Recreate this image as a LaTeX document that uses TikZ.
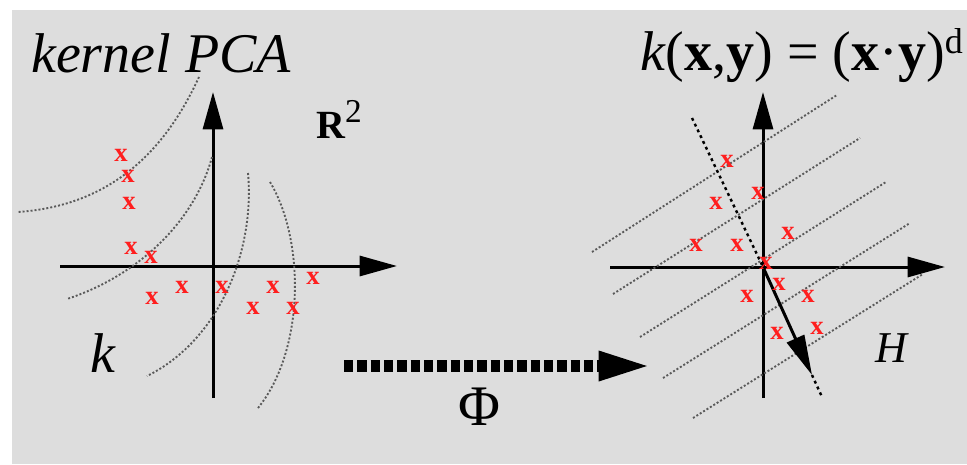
\documentclass[tikz,border=0pt]{standalone}
\usepackage{fontspec}
\setmainfont{Liberation Serif}
\usetikzlibrary{arrows.meta}
\definecolor{bg}{RGB}{221,221,221}
\definecolor{xred}{RGB}{255,30,30}
\definecolor{curvegray}{RGB}{90,90,90}
\begin{document}
\begin{tikzpicture}[x=0.75pt,y=-0.75pt,
  axis/.style={line width=2.25pt,-{Triangle[length=28pt,width=15pt]}},
  level/.style={draw=curvegray,line width=1.4pt,dash pattern=on 1.5pt off 1.5pt},
  xmark/.style={text=xred,font=\fontsize{20}{20}\selectfont\bfseries,inner sep=0},
  lbl/.style={inner sep=0,anchor=base west}]
\useasboundingbox (0,0) rectangle (967,464);
\fill[bg] (12,10) rectangle (967,464);

% ---------- left panel ----------
\coordinate (lxa) at (60,266);  \coordinate (lxb) at (397,266);
\coordinate (lya) at (213,398); \coordinate (lyb) at (213,92);
\draw[axis] (lxa) -- (lxb);
\draw[axis] (lya) -- (lyb);

\coordinate (c1a) at (199,77);  \coordinate (c1b) at (18,212);
\coordinate (c2a) at (212,157); \coordinate (c2b) at (67,299);
\coordinate (c3a) at (248,173); \coordinate (c3b) at (147,376);
\coordinate (c4a) at (270,182); \coordinate (c4b) at (258,408);
\draw[level] (c1a) .. controls (170,140) and (120,205) .. (c1b);
\draw[level] (c2a) .. controls (195,220) and (140,275) .. (c2b);
\draw[level] (c3a) .. controls (255,250) and (220,340) .. (c3b);
\draw[level] (c4a) .. controls (305,240) and (305,350) .. (c4b);

\node[xmark] (l1) at (121,155) {x};
\node[xmark] (l2) at (128,176) {x};
\node[xmark] (l3) at (129,203) {x};
\node[xmark] (l4) at (131,248) {x};
\node[xmark] (l5) at (151,257) {x};
\node[xmark] (l6) at (152,298) {x};
\node[xmark] (l7) at (182,287) {x};
\node[xmark] (l8) at (222,287) {x};
\node[xmark] (l9) at (253,308) {x};
\node[xmark] (l10) at (273,287) {x};
\node[xmark] (l11) at (293,308) {x};
\node[xmark] (l12) at (313,278) {x};

\node[lbl,font=\fontsize{42}{42}\selectfont\itshape] (title) at (31,72) {kernel PCA};
\node[lbl] (r2) at (316,138) {\fontsize{30}{30}\selectfont\bfseries R\raisebox{12pt}{\fontsize{25}{25}\selectfont\mdseries 2}};
\node[lbl,font=\fontsize{42}{42}\selectfont\itshape] (k) at (90,372) {k};

% ---------- middle mapping ----------
\coordinate (ma) at (344,366); \coordinate (mb) at (652,366);
\draw[line width=9pt,dash pattern=on 7pt off 3pt,-{Triangle[length=40pt,width=20pt]}] (ma) -- (mb);
\node[inner sep=0,anchor=base,font=\fontsize{43}{43}\selectfont] (phi) at (479,425) {Φ};

% ---------- right panel ----------
\coordinate (rxa) at (610,267); \coordinate (rxb) at (945,267);
\coordinate (rya) at (763,398); \coordinate (ryb) at (763,92);
\draw[axis] (rxa) -- (rxb);
\draw[axis] (rya) -- (ryb);

\coordinate (d1a) at (592,252); \coordinate (d1b) at (837,95);
\coordinate (d2a) at (613,294); \coordinate (d2b) at (860,138);
\coordinate (d3a) at (640,337); \coordinate (d3b) at (886,182);
\coordinate (d4a) at (663,378); \coordinate (d4b) at (910,223);
\coordinate (d5a) at (693,418); \coordinate (d5b) at (923,274);
\draw[level] (d1a) -- (d1b);
\draw[level] (d2a) -- (d2b);
\draw[level] (d3a) -- (d3b);
\draw[level] (d4a) -- (d4b);
\draw[level] (d5a) -- (d5b);

\coordinate (pa) at (692,118); \coordinate (ro) at (763,267);
\coordinate (ptip) at (812,375); \coordinate (pend) at (822,397);
\draw[black,line width=1.8pt,dash pattern=on 2.2pt off 2.6pt] (pa) -- (ro);
\draw[black,line width=1.8pt,dash pattern=on 2.2pt off 2.6pt] (ptip) -- (pend);
\draw[line width=2.25pt,-{Triangle[length=30pt,width=14pt]}] (ro) -- (ptip);

\node[xmark] (r1) at (727,161) {x};
\node[xmark] (r2x) at (758,193) {x};
\node[xmark] (r3) at (716,203) {x};
\node[xmark] (r4) at (788,233) {x};
\node[xmark] (r5) at (696,245) {x};
\node[xmark] (r6) at (737,245) {x};
\node[xmark] (r7) at (766,263) {x};
\node[xmark] (r8) at (779,284) {x};
\node[xmark] (r9) at (747,296) {x};
\node[xmark] (r10) at (808,296) {x};
\node[xmark] (r11) at (777,333) {x};
\node[xmark] (r12) at (817,328) {x};

\node[lbl,font=\fontsize{42}{42}\selectfont] (kf) at (640,70)
  {\textit{k}(\textbf{x},\textbf{y}) = (\textbf{x}·\textbf{y})\raisebox{12.5pt}{\fontsize{27}{27}\selectfont d}};
\node[lbl,font=\fontsize{33}{33}\selectfont\itshape] (H) at (875,362) {H};
\end{tikzpicture}
\end{document}
